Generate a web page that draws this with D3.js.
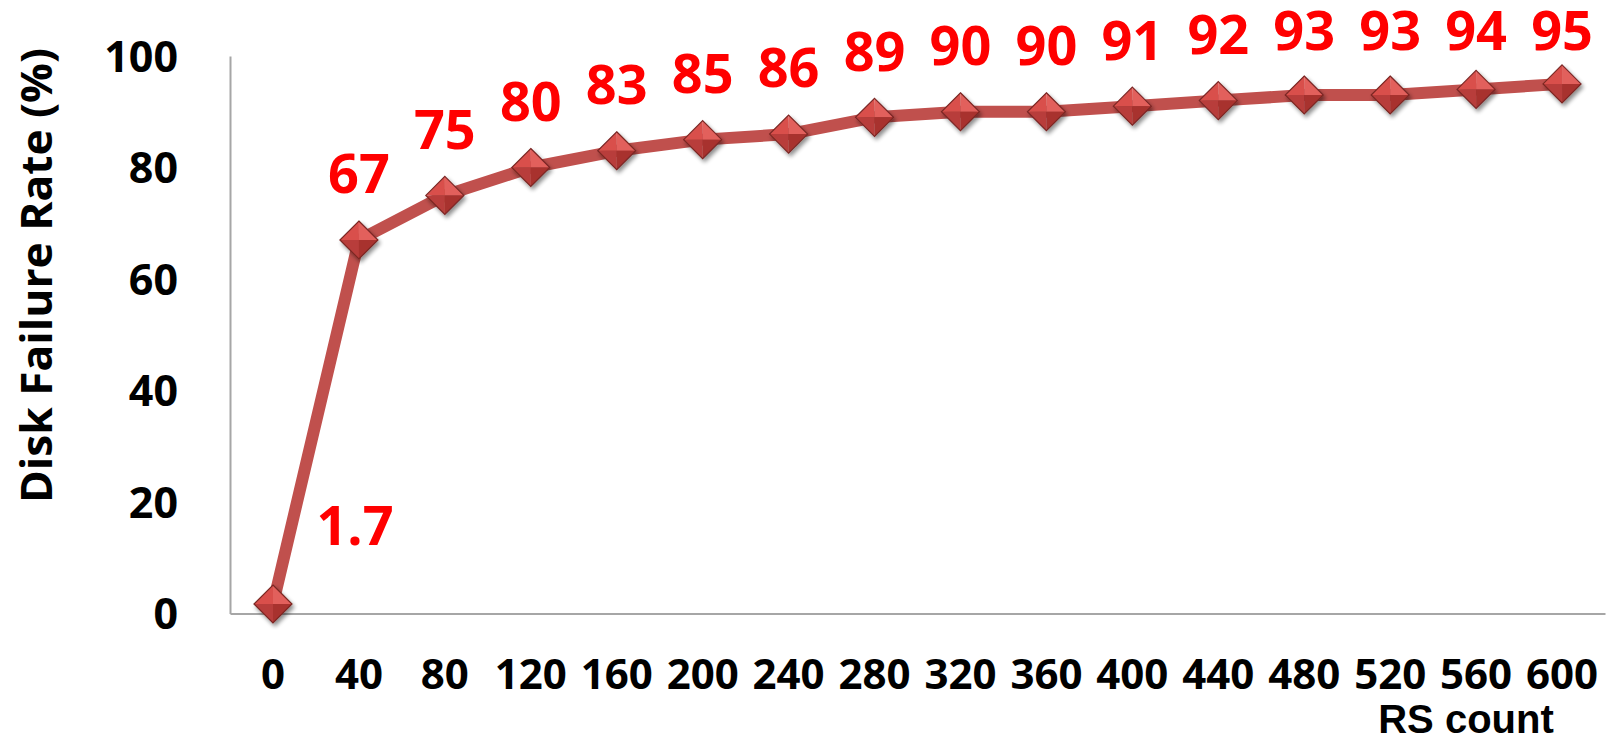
<!DOCTYPE html>
<html>
<head>
<meta charset="utf-8">
<script src="https://cdn.jsdelivr.net/npm/d3@7"></script>
<style>
  html, body { margin: 0; padding: 0; background: #fff; }
  svg { display: block; }
  text { font-family: "Open Sans", "Liberation Sans", sans-serif; font-weight: 700; }
</style>
</head>
<body>
<svg id="chart" width="1610" height="740"></svg>
<script>
// RS count categories along the x axis
const rsCounts = ["0", "40", "80", "120", "160", "200", "240", "280", "320", "360", "400", "440", "480", "520", "560", "600"];
// Disk failure rate (%) for each RS count
const failureRate = [1.7, 67, 75, 80, 83, 85, 86, 89, 90, 90, 91, 92, 93, 93, 94, 95];
// Y axis tick values
const yTicks = [0, 20, 40, 60, 80, 100];

const svg = d3.select("#chart");
const plot = { left: 230, right: 1605, top: 56, bottom: 613.5 };

const x = d3.scaleBand().domain(rsCounts).range([plot.left, plot.right]).padding(0);
const y = d3.scaleLinear().domain([0, 100]).range([plot.bottom, plot.top]);
const cx = (d, i) => x(rsCounts[i]) + x.bandwidth() / 2;

// defs: marker shadow
const defs = svg.append("defs");
const shadow = defs.append("filter").attr("id", "mshadow")
  .attr("x", "-50%").attr("y", "-50%").attr("width", "200%").attr("height", "200%");
shadow.append("feGaussianBlur").attr("in", "SourceAlpha").attr("stdDeviation", 2).attr("result", "b");
shadow.append("feOffset").attr("in", "b").attr("dx", 2).attr("dy", 3).attr("result", "o");
shadow.append("feComponentTransfer").attr("in", "o").attr("result", "s")
  .append("feFuncA").attr("type", "linear").attr("slope", 0.45);
const merge = shadow.append("feMerge");
merge.append("feMergeNode").attr("in", "s");
merge.append("feMergeNode").attr("in", "SourceGraphic");

// axes (lines only, no tick marks)
const yAxis = d3.axisLeft(y).tickValues(yTicks).tickSize(0).tickPadding(0).tickFormat(d3.format("d"));
const gy = svg.append("g").attr("transform", `translate(${plot.left},0)`).call(yAxis);
gy.select(".domain").attr("stroke", "#a6a6a6").attr("stroke-width", 2);
gy.selectAll(".tick text")
  .attr("x", -52).attr("dy", "0.36em").attr("text-anchor", "end")
  .attr("fill", "#000").style("font-size", "43px")
  .style("font-family", "'Open Sans', sans-serif").style("font-weight", 700);

const xAxis = d3.axisBottom(x).tickSize(0).tickPadding(0);
const gx = svg.append("g").attr("transform", `translate(0,${plot.bottom})`).call(xAxis);
gx.select(".domain").attr("stroke", "#a6a6a6").attr("stroke-width", 2);
gx.selectAll(".tick text")
  .attr("y", 60).attr("dy", "0.36em")
  .attr("fill", "#000").style("font-size", "42px")
  .style("font-family", "'Open Sans', sans-serif").style("font-weight", 700);

// axis titles
svg.append("text")
  .attr("transform", `translate(52,${(48 + 503) / 2}) rotate(-90)`)
  .attr("text-anchor", "middle")
  .attr("textLength", 455).attr("lengthAdjust", "spacingAndGlyphs")
  .style("font-size", "43px").attr("fill", "#000")
  .text("Disk Failure Rate (%)");

svg.append("text")
  .attr("x", 1466).attr("y", 733)
  .attr("text-anchor", "middle")
  .style("font-family", "'Liberation Sans', Arial, sans-serif")
  .style("font-size", "40px").attr("fill", "#000")
  .text("RS count");

// series line
const line = d3.line().x((d, i) => cx(d, i)).y(d => y(d));
svg.append("path")
  .datum(failureRate)
  .attr("d", line)
  .attr("fill", "none")
  .attr("stroke", "#c0504d")
  .attr("stroke-width", 12)
  .attr("stroke-linejoin", "round");

// bevelled diamond markers
const R = 19;
const facets = [
  { pts: [[0, -R], [-R, 0], [0, 0]], fill: "#d9504c" },
  { pts: [[0, -R], [R, 0], [0, 0]], fill: "#e2605c" },
  { pts: [[-R, 0], [0, R], [0, 0]], fill: "#b83d3a" },
  { pts: [[R, 0], [0, R], [0, 0]], fill: "#a8312e" }
];
const marks = svg.append("g").selectAll("g.mk")
  .data(failureRate)
  .join("g")
  .attr("class", "mk")
  .attr("transform", (d, i) => `translate(${cx(d, i)},${y(d)})`)
  .attr("filter", "url(#mshadow)");
facets.forEach(f => {
  marks.append("path")
    .attr("d", "M" + f.pts.map(p => p.join(",")).join("L") + "Z")
    .attr("fill", f.fill);
});
marks.append("path")
  .attr("d", `M0,${-R}L${R},0L0,${R}L${-R},0Z`)
  .attr("fill", "none")
  .attr("stroke", "#7a2624")
  .attr("stroke-width", 1.2)
  .attr("stroke-linejoin", "miter");

// value labels above each point, kept inside the chart area
svg.append("g").selectAll("text.val")
  .data(failureRate)
  .join("text")
  .attr("class", "val")
  .attr("x", (d, i) => cx(d, i) + (i === 0 ? 82 : 0))
  .attr("y", (d, i) => i === 0 ? y(d) - 78 : Math.max(y(d) - 66, 31))
  .attr("dy", "0.36em")
  .attr("text-anchor", "middle")
  .attr("fill", "#ff0000")
  .style("font-size", "54px")
  .text(d => d3.format("")(d));
</script>
</body>
</html>
